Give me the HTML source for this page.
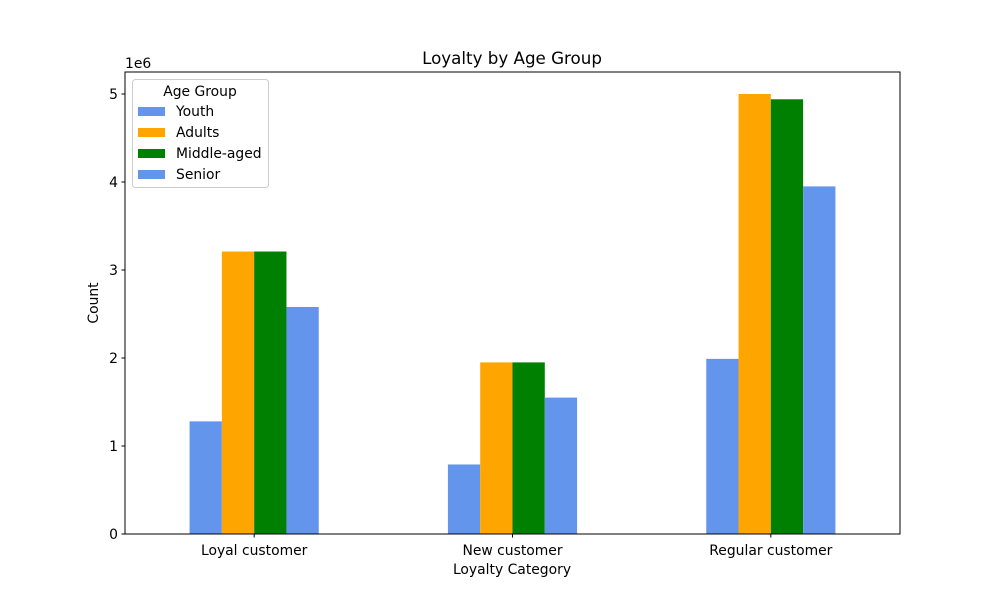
<!DOCTYPE html>
<html><head><meta charset="utf-8"><style>
body{margin:0;background:#fff;}
svg text{font-family:"DejaVu Sans","Liberation Sans",sans-serif;fill:#000;}
</style></head><body>
<svg id="chart" width="1000" height="600" xmlns="http://www.w3.org/2000/svg">
<rect width="1000" height="600" fill="#fff"/>
<g id="bars"></g>
<g id="axes"></g>
<text x="512" y="64" font-size="16.7" text-anchor="middle">Loyalty by Age Group</text>
<text x="512" y="574" font-size="13.9" text-anchor="middle">Loyalty Category</text>
<text transform="translate(98,303) rotate(-90)" font-size="13.9" text-anchor="middle">Count</text>
<text x="125" y="68" font-size="13.9">1e6</text>
<g>
<rect x="132.5" y="79.5" width="136" height="108" rx="3" fill="#fff" fill-opacity="0.8" stroke="#ccc"/>
<text x="200" y="96" font-size="13.9" text-anchor="middle">Age Group</text>
<g id="legend-entries"></g>
</g>
</svg>
<script>
const categories=["Loyal customer","New customer","Regular customer"];
const groups=["Youth","Adults","Middle-aged","Senior"];
const colors=["#6495ed","#ffa500","#008000","#6495ed"];
const youth=[1.28,0.79,1.99];
const adults=[3.21,1.95,5.0];
const middleAged=[3.21,1.95,4.94];
const senior=[2.58,1.55,3.95];
const yTicks=[0,1,2,3,4,5];
const series=[youth,adults,middleAged,senior];
const NS="http://www.w3.org/2000/svg";
const L=125,R=900,T=72,B=534;
const xScale=i=>L+(i+0.5)*(R-L)/3;
const yScale=v=>B-v*88;
const bw=(R-L)/3*0.125;
const bars=document.getElementById('bars'),axes=document.getElementById('axes');
function mk(tag,attrs,parent){const e=document.createElementNS(NS,tag);for(const k in attrs)e.setAttribute(k,attrs[k]);parent.appendChild(e);return e;}
series.forEach((s,si)=>{s.forEach((v,ci)=>{
 const x=xScale(ci)+(si-2)*bw;
 const r=mk('rect',{x:x,y:yScale(v),width:bw,height:B-yScale(v),fill:colors[si]},bars);
 
 
});});
mk('rect',{x:L,y:T,width:R-L,height:B-T,fill:'none',stroke:'#000','stroke-width':1},axes);
yTicks.forEach(t=>{const y=yScale(t);
 mk('line',{x1:L-3.5,x2:L,y1:y,y2:y,stroke:'#000'},axes);
 const tx=mk('text',{x:L-7,y:y+5,'font-size':13.9,'text-anchor':'end'},axes);tx.textContent=t;
 
 
});
categories.forEach((c,i)=>{const x=xScale(i);
 mk('line',{x1:x,x2:x,y1:B,y2:B+3.5,stroke:'#000'},axes);
 const tx=mk('text',{x:x,y:B+21,'font-size':13.9,'text-anchor':'middle'},axes);tx.textContent=c;
 
 
});
const le=document.getElementById('legend-entries');
groups.forEach((g,i)=>{const y=111+i*21;
 mk('rect',{x:138,y:y-4,width:27,height:9,fill:colors[i]},le);
 const tx=mk('text',{x:176,y:y+5,'font-size':13.9},le);tx.textContent=g;
 
 
});
</script>
</body></html>
